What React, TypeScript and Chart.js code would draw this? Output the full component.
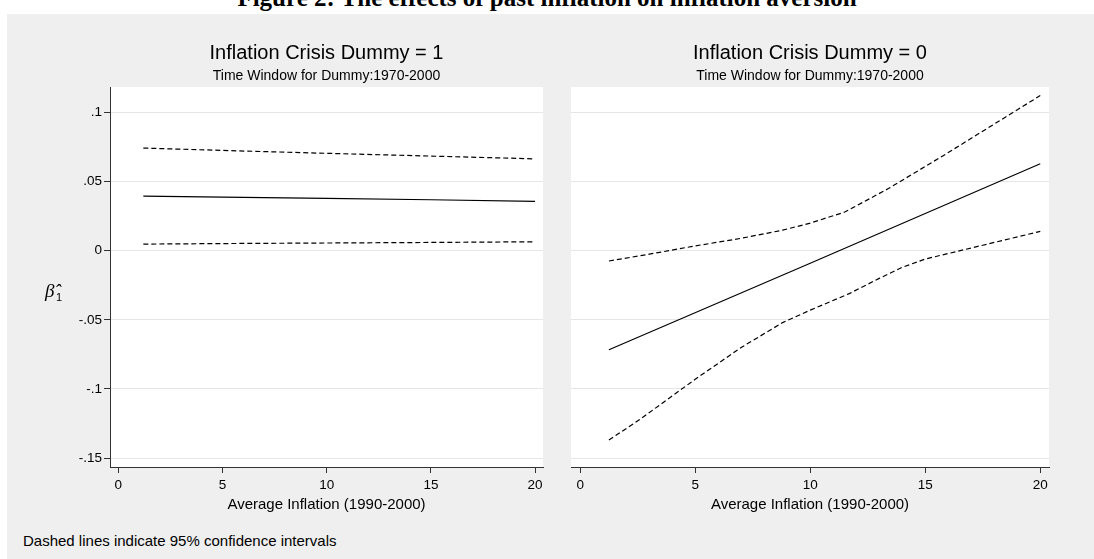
import React, { useEffect, useRef } from "react";
import { Chart, registerables } from "chart.js";

Chart.register(...registerables);

const figureTitle = "Figure 2: The effects of past inflation on inflation aversion";
const footnoteText = "Dashed lines indicate 95% confidence intervals";
const xAxisTitle = "Average Inflation (1990-2000)";
const subtitleText = "Time Window for Dummy:1970-2000";
const panelTitles = ["Inflation Crisis Dummy = 1", "Inflation Crisis Dummy = 0"];

const xTicks = [0, 5, 10, 15, 20];
const yTicks = [-0.15, -0.1, -0.05, 0, 0.05, 0.1];
const yTickLabels = ["-.15", "-.1", "-.05", "0", ".05", ".1"];

// Left panel (dummy = 1)
const leftX = [1.2, 5, 10, 15, 20];
const leftEst = [0.0395, 0.0388, 0.0379, 0.0369, 0.0358];
const leftUpper = [0.0743, 0.0726, 0.0705, 0.0685, 0.0665];
const leftLower = [0.0048, 0.0052, 0.0056, 0.006, 0.0065];

// Right panel (dummy = 0)
const rightEstX = [1.25, 10, 20];
const rightEst = [-0.0716, -0.009, 0.063];
const rightUpperX = [1.25, 3, 5, 7, 8.8, 10, 11.5, 13.4, 15.8, 20];
const rightUpper = [-0.0074, -0.0025, 0.0035, 0.009, 0.0149, 0.02, 0.028, 0.045, 0.069, 0.1123];
const rightLowerX = [1.25, 2.6, 5, 7, 8.8, 10, 11.7, 13, 14, 15, 17.5, 20];
const rightLower = [-0.137, -0.122, -0.093, -0.07, -0.052, -0.043, -0.031, -0.02, -0.012, -0.006, 0.004, 0.014];

const FONT = "'Liberation Sans', Arial, sans-serif";
const X_MIN = -0.4;
const X_MAX = 20.38;
const Y_MIN = -0.1565;
const Y_MAX = 0.1185;

function pts(xs: number[], ys: number[]) {
  return xs.map((x, i) => ({ x, y: ys[i] }));
}

function makeConfig(panel: number): any {
  const isLeft = panel === 0;
  const est = isLeft ? pts(leftX, leftEst) : pts(rightEstX, rightEst);
  const up = isLeft ? pts(leftX, leftUpper) : pts(rightUpperX, rightUpper);
  const lo = isLeft ? pts(leftX, leftLower) : pts(rightLowerX, rightLower);
  const lineDs = (data: any[], dashed: boolean) => ({
    data,
    borderColor: "#000",
    borderWidth: 1.2,
    borderDash: dashed ? [5, 3] : [],
    pointRadius: 0,
    fill: false,
    tension: 0,
  });

  const decor = {
    id: "decor" + panel,
    beforeDraw(chart: any) {
      const { ctx, chartArea } = chart;
      ctx.save();
      ctx.fillStyle = "#ffffff";
      ctx.fillRect(chartArea.left, chartArea.top, chartArea.right - chartArea.left, chartArea.bottom - chartArea.top);
      ctx.restore();
    },
    afterDraw(chart: any) {
      const { ctx, chartArea } = chart;
      const cx = (chartArea.left + chartArea.right) / 2;
      ctx.save();
      ctx.fillStyle = "#000";
      ctx.textAlign = "center";
      ctx.textBaseline = "middle";
      ctx.font = `20px ${FONT}`;
      ctx.fillText(panelTitles[panel], cx, 39);
      ctx.font = `14px ${FONT}`;
      ctx.fillText(subtitleText, cx, 62);
      if (isLeft) {
        ctx.textAlign = "left";
        ctx.textBaseline = "alphabetic";
        ctx.font = `italic 19px 'Liberation Serif', serif`;
        ctx.fillText("\u03B2\u0302", 38, 283);
        ctx.font = `11px ${FONT}`;
        ctx.fillText("1", 49, 287);
      }
      ctx.restore();
    },
  };

  return {
    type: "line",
    data: {
      datasets: [lineDs(up, true), lineDs(est, false), lineDs(lo, true)],
    },
    options: {
      animation: false,
      responsive: false,
      maintainAspectRatio: false,
      layout: { padding: { left: isLeft ? 53 : 14, right: isLeft ? 13 : 45, top: 73, bottom: 0 } },
      plugins: {
        legend: { display: false },
        tooltip: { enabled: false },
        title: { display: false },
      },
      scales: {
        x: {
          type: "linear",
          min: X_MIN,
          max: X_MAX,
          afterBuildTicks: (s: any) => {
            s.ticks = xTicks.map((v) => ({ value: v }));
          },
          afterFit: (s: any) => {
            s.height = 58;
          },
          ticks: {
            autoSkip: false,
            maxRotation: 0,
            padding: 4,
            color: "#000",
            font: { family: FONT, size: 13.5 },
            callback: (v: any) => String(v),
          },
          grid: {
            drawOnChartArea: false,
            drawTicks: true,
            tickLength: 6,
            tickColor: "#333",
          },
          border: { display: true, color: "#333", width: 1 },
          title: {
            display: true,
            text: xAxisTitle,
            color: "#000",
            font: { family: FONT, size: 15 },
            padding: { top: 0, bottom: 11 },
          },
        },
        y: {
          type: "linear",
          min: Y_MIN,
          max: Y_MAX,
          afterBuildTicks: (s: any) => {
            s.ticks = yTicks.map((v) => ({ value: v }));
          },
          afterFit: (s: any) => {
            s.width = isLeft ? 50 : 0;
          },
          ticks: {
            display: isLeft,
            autoSkip: false,
            padding: 2,
            color: "#000",
            font: { family: FONT, size: 13.5 },
            callback: (v: any) => {
              const i = yTicks.findIndex((t) => Math.abs(t - v) < 1e-9);
              return i >= 0 ? yTickLabels[i] : "";
            },
          },
          grid: {
            color: "#e6e6e6",
            lineWidth: 1,
            drawTicks: isLeft,
            tickLength: 6,
            tickColor: "#333",
          },
          border: { display: isLeft, color: "#333", width: 1 },
        },
      },
    },
    plugins: [decor],
  };
}

function Panel({ panel, left, width }: { panel: number; left: number; width: number }) {
  const ref = useRef<HTMLCanvasElement | null>(null);
  useEffect(() => {
    if (!ref.current) return;
    const chart = new Chart(ref.current, makeConfig(panel));
    return () => chart.destroy();
  }, [panel]);
  return (
    <canvas
      ref={ref}
      width={width}
      height={511}
      style={{ position: "absolute", left, top: 14, width, height: 511 }}
    />
  );
}

export default function App() {
  return (
    <div
      style={{
        position: "absolute",
        left: 0,
        top: 0,
        width: 1094,
        height: 559,
        background: "#ffffff",
        overflow: "hidden",
      }}
    >
      <div
        style={{
          position: "absolute",
          left: 7,
          top: 14,
          right: 0,
          bottom: 0,
          background: "#efefef",
        }}
      />
      <div
        style={{
          position: "absolute",
          left: 0,
          width: 1094,
          top: -15,
          textAlign: "center",
          fontFamily: "'Liberation Serif', 'Times New Roman', serif",
          fontWeight: "bold",
          fontSize: 25,
          lineHeight: "25px",
          color: "#000",
          whiteSpace: "nowrap",
        }}
      >
        {figureTitle}
      </div>
      <Panel panel={0} left={7} width={549} />
      <Panel panel={1} left={557} width={537} />
      <div
        style={{
          position: "absolute",
          left: 23,
          top: 531,
          fontFamily: FONT,
          fontSize: 15,
          lineHeight: "19px",
          color: "#000",
          whiteSpace: "nowrap",
        }}
      >
        {footnoteText}
      </div>
    </div>
  );
}
